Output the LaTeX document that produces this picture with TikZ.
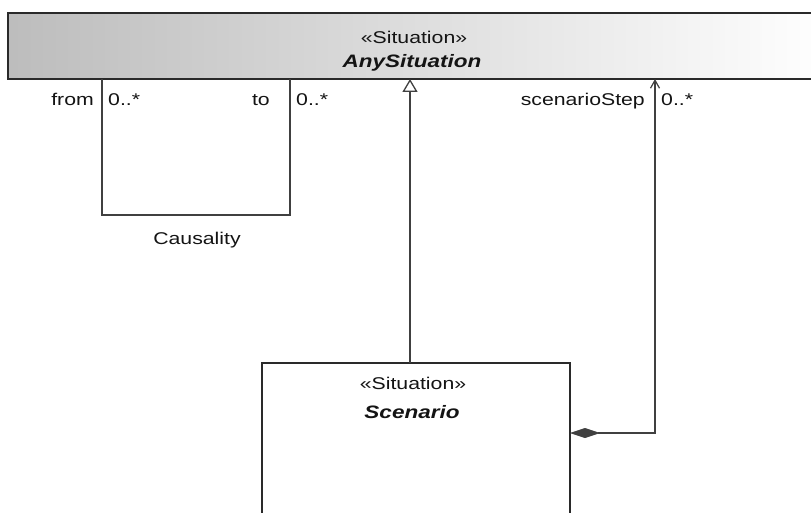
\documentclass[tikz,border=0pt]{standalone}
\usepackage{fontspec}
\setmainfont[FakeStretch=1.25]{Liberation Sans}
\usetikzlibrary{arrows.meta}
\definecolor{umlline}{HTML}{404040}
\definecolor{umlborder}{HTML}{2A2A2A}
\definecolor{umltext}{HTML}{141414}
\tikzset{
  classbox/.style={draw=umlborder, line width=1.8pt, fill=white},
  assoc/.style={draw=umlline, line width=1.3pt},
  lbl/.style={text=umltext, inner sep=0pt, font=\fontsize{17}{20}\selectfont},
  stereo/.style={lbl},
  cname/.style={lbl, font=\fontsize{18}{21}\selectfont\bfseries\itshape},
}
\begin{document}
\begin{tikzpicture}[x=1pt, y=-1pt]
\clip (0,0) rectangle (811,513);
\fill[white] (0,0) rectangle (811,513);

% AnySituation class (runs past the right edge)
\shade[left color=black!26, right color=white, shading angle=90]
  (8,13) rectangle (830,79);
\draw[umlborder, line width=1.8pt] (8,13) rectangle (830,79);
\node[stereo, anchor=base] (anySt) at (414,44) {«Situation»};
\node[cname, anchor=base] (anyName) at (412,68) {AnySituation};

% Scenario class (runs past the bottom edge)
\draw[classbox] (262,363) rectangle (570,530);
\node[stereo, anchor=base] (scnSt) at (413,389) {«Situation»};
\node[cname, anchor=base] (scnName) at (412,418) {Scenario};

% named ends of the connectors
\coordinate (causL) at (102,79);
\coordinate (causR) at (290,79);
\coordinate (genTop) at (410,79);
\coordinate (genBot) at (410,363);
\coordinate (compStart) at (570,433);
\coordinate (compTop) at (655,79);

% Causality: reflexive association on AnySituation
\draw[assoc] (causL) -- (102,215) -- (290,215) -- (causR);
\node[lbl, anchor=base east] (fromLbl) at (94,106) {from};
\node[lbl, anchor=base west] (fromMul) at (108,106) {0..*};
\node[lbl, anchor=base east] (toLbl) at (270,106) {to};
\node[lbl, anchor=base west] (toMul) at (296,106) {0..*};
\node[lbl, anchor=base] (causName) at (197,244) {Causality};

% Scenario specialises AnySituation
\draw[assoc, -{Triangle[open, length=13pt, width=15pt, line width=1.3pt]}]
  (genBot) -- (genTop);

% composition: Scenario owns its scenario steps
\draw[assoc, {Diamond[length=30pt, width=10pt, fill=umlline, line width=0.6pt]}-{Straight Barb[length=8pt, width=9pt, line width=1.2pt]}]
  (compStart) -- (655,433) -- (compTop);
\node[lbl, anchor=base east] (stepLbl) at (645,106) {scenarioStep};
\node[lbl, anchor=base west] (stepMul) at (661,106) {0..*};
\end{tikzpicture}
\end{document}
